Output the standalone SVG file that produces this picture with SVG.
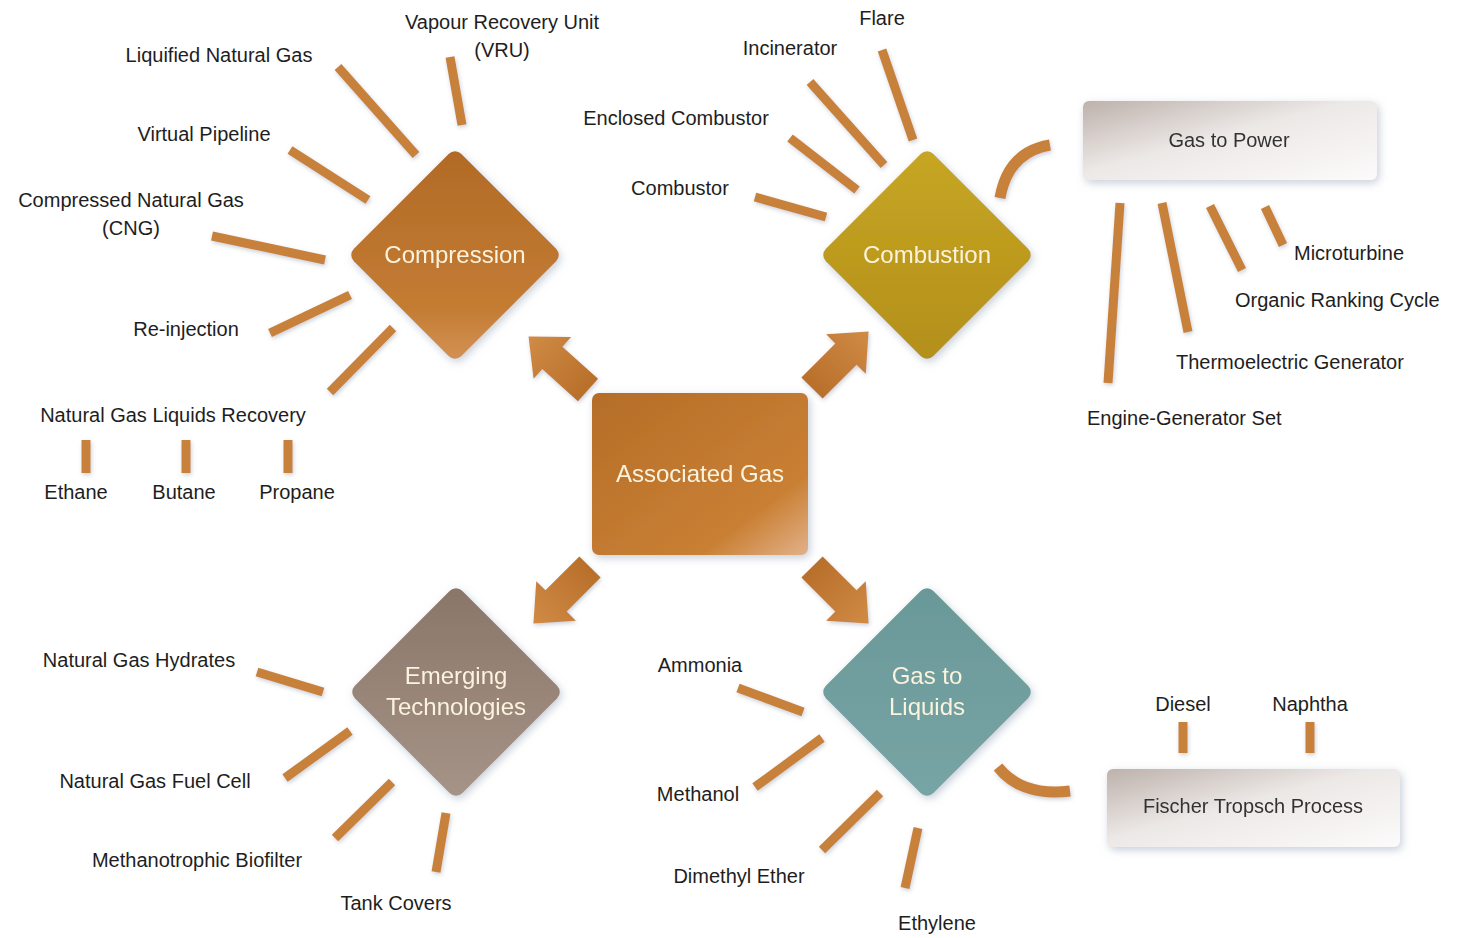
<svg xmlns="http://www.w3.org/2000/svg" width="1458" height="938" viewBox="0 0 1458 938">
  <defs>
    <style>
      .lbl { font-family: "Liberation Sans", Arial, sans-serif; font-size: 20px; fill: #1e1e1e; }
      .mid { text-anchor: middle; }
      .node-txt { font-family: "Liberation Sans", Arial, sans-serif; font-size: 24px; fill: #fbf3de; text-anchor: middle; }
      .box-txt { font-family: "Liberation Sans", Arial, sans-serif; font-size: 20px; fill: #333; text-anchor: middle; }
      .spoke { stroke: #c8813a; stroke-width: 9; stroke-linecap: butt; fill: none; }
      .curve { stroke: #c8813a; stroke-width: 11; stroke-linecap: butt; fill: none; }
      .blk { fill: url(#gArrow); }
    </style>
    <filter id="glow" x="-20%" y="-20%" width="140%" height="140%">
      <feDropShadow dx="2" dy="3" stdDeviation="4" flood-color="#9aa6ba" flood-opacity="0.55"/>
    </filter>
    <filter id="soft" x="-20%" y="-20%" width="140%" height="140%">
      <feDropShadow dx="1" dy="2" stdDeviation="2" flood-color="#8c96a8" flood-opacity="0.45"/>
    </filter>
    <linearGradient id="gComp" x1="0" y1="0" x2="1" y2="1">
      <stop offset="0" stop-color="#b16a26"/>
      <stop offset="0.75" stop-color="#c47c33"/>
      <stop offset="1" stop-color="#d39356"/>
    </linearGradient>
    <linearGradient id="gAssoc" x1="0" y1="0" x2="1" y2="1">
      <stop offset="0" stop-color="#b56d28"/>
      <stop offset="0.75" stop-color="#c98034"/>
      <stop offset="1" stop-color="#e2b189"/>
    </linearGradient>
    <linearGradient id="gComb" x1="0" y1="0" x2="1" y2="1">
      <stop offset="0" stop-color="#c7a623"/>
      <stop offset="1" stop-color="#b38f1a"/>
    </linearGradient>
    <linearGradient id="gEmer" x1="0" y1="0" x2="1" y2="1">
      <stop offset="0" stop-color="#8a7568"/>
      <stop offset="1" stop-color="#a69488"/>
    </linearGradient>
    <linearGradient id="gGtl" x1="0" y1="0" x2="1" y2="1">
      <stop offset="0" stop-color="#6a9898"/>
      <stop offset="1" stop-color="#77a4a4"/>
    </linearGradient>
    <linearGradient id="gBox" x1="0" y1="0" x2="1" y2="1">
      <stop offset="0" stop-color="#bdb1ab"/>
      <stop offset="0.45" stop-color="#ece8e6"/>
      <stop offset="1" stop-color="#fcfbfb"/>
    </linearGradient>
    <linearGradient id="gArrow" x1="0" y1="0" x2="1" y2="0">
      <stop offset="0" stop-color="#b86f2a"/>
      <stop offset="1" stop-color="#d08b45"/>
    </linearGradient>
    <!-- block arrow pointing along +x, tail at origin -->
    <path id="blockArrow" d="M0,-15 L48,-15 L48,-28 L80,0 L48,28 L48,15 L0,15 Z"/>
  </defs>

  <rect width="1458" height="938" fill="#ffffff"/>

  <!-- connectors -->
  <g id="connectors" filter="url(#soft)">
    <!-- Compression spokes -->
    <line class="spoke" x1="338" y1="67" x2="416" y2="155"/>
    <line class="spoke" x1="450" y1="57" x2="462" y2="125"/>
    <line class="spoke" x1="290" y1="150" x2="368" y2="200"/>
    <line class="spoke" x1="212" y1="236" x2="325" y2="260"/>
    <line class="spoke" x1="270" y1="333" x2="350" y2="295"/>
    <line class="spoke" x1="330" y1="392" x2="393" y2="328"/>
    <!-- NGL products -->
    <line class="spoke" x1="86" y1="440" x2="86" y2="473"/>
    <line class="spoke" x1="186" y1="440" x2="186" y2="473"/>
    <line class="spoke" x1="288" y1="440" x2="288" y2="473"/>
    <!-- Combustion spokes -->
    <line class="spoke" x1="882" y1="50" x2="913" y2="140"/>
    <line class="spoke" x1="810" y1="82" x2="884" y2="165"/>
    <line class="spoke" x1="790" y1="138" x2="857" y2="190"/>
    <line class="spoke" x1="755" y1="197" x2="826" y2="217"/>
    <!-- Gas to Power spokes -->
    <line class="spoke" x1="1120" y1="203" x2="1108" y2="383"/>
    <line class="spoke" x1="1162" y1="203" x2="1188" y2="332"/>
    <line class="spoke" x1="1210" y1="206" x2="1242" y2="270"/>
    <line class="spoke" x1="1265" y1="207" x2="1283" y2="245"/>
    <!-- Emerging Technologies spokes -->
    <line class="spoke" x1="257" y1="672" x2="323" y2="692"/>
    <line class="spoke" x1="285" y1="778" x2="350" y2="731"/>
    <line class="spoke" x1="335" y1="838" x2="392" y2="782"/>
    <line class="spoke" x1="436" y1="872" x2="446" y2="813"/>
    <!-- Gas to Liquids spokes -->
    <line class="spoke" x1="738" y1="688" x2="803" y2="712"/>
    <line class="spoke" x1="755" y1="787" x2="822" y2="738"/>
    <line class="spoke" x1="822" y1="850" x2="880" y2="793"/>
    <line class="spoke" x1="905" y1="888" x2="918" y2="828"/>
    <!-- Fischer Tropsch products -->
    <line class="spoke" x1="1183" y1="753" x2="1183" y2="722"/>
    <line class="spoke" x1="1310" y1="753" x2="1310" y2="722"/>
    <!-- curved links to the side boxes -->
    <path class="curve" d="M1000,198 Q1008,152 1050,145"/>
    <path class="curve" d="M998,767 Q1022,797 1070,791"/>
    <!-- block arrows from the centre -->
    <use href="#blockArrow" class="blk" transform="translate(588,390) rotate(-138)"/>
    <use href="#blockArrow" class="blk" transform="translate(812,388) rotate(-45)"/>
    <use href="#blockArrow" class="blk" transform="translate(590,567) rotate(135)"/>
    <use href="#blockArrow" class="blk" transform="translate(812,567) rotate(45)"/>
  </g>

  <!-- central node -->
  <g id="associated-gas" filter="url(#glow)">
    <rect x="592" y="393" width="216" height="162" rx="7" fill="url(#gAssoc)"/>
    <text class="node-txt" x="700" y="482">Associated Gas</text>
  </g>

  <!-- diamonds -->
  <g id="compression" filter="url(#glow)">
    <rect x="-76" y="-76" width="152" height="152" rx="9" fill="url(#gComp)" transform="translate(455,255) rotate(45)"/>
    <text class="node-txt" x="455" y="263">Compression</text>
  </g>
  <g id="combustion" filter="url(#glow)">
    <rect x="-76" y="-76" width="152" height="152" rx="9" fill="url(#gComb)" transform="translate(927,255) rotate(45)"/>
    <text class="node-txt" x="927" y="263">Combustion</text>
  </g>
  <g id="emerging-technologies" filter="url(#glow)">
    <rect x="-76" y="-76" width="152" height="152" rx="9" fill="url(#gEmer)" transform="translate(456,692) rotate(45)"/>
    <text class="node-txt" x="456" y="684">Emerging</text>
    <text class="node-txt" x="456" y="715">Technologies</text>
  </g>
  <g id="gas-to-liquids" filter="url(#glow)">
    <rect x="-76" y="-76" width="152" height="152" rx="9" fill="url(#gGtl)" transform="translate(927,692) rotate(45)"/>
    <text class="node-txt" x="927" y="684">Gas to</text>
    <text class="node-txt" x="927" y="715">Liquids</text>
  </g>

  <!-- side boxes -->
  <g id="gas-to-power" filter="url(#glow)">
    <rect x="1083" y="101" width="294" height="79" rx="6" fill="url(#gBox)"/>
    <text class="box-txt" x="1229" y="147">Gas to Power</text>
  </g>
  <g id="fischer-tropsch" filter="url(#glow)">
    <rect x="1107" y="769" width="293" height="78" rx="6" fill="url(#gBox)"/>
    <text class="box-txt" x="1253" y="813">Fischer Tropsch Process</text>
  </g>

  <!-- Compression labels -->
  <g id="compression-labels">
    <text class="lbl mid" x="502" y="29">Vapour Recovery Unit</text>
    <text class="lbl mid" x="502" y="57">(VRU)</text>
    <text class="lbl mid" x="219" y="62">Liquified Natural Gas</text>
    <text class="lbl mid" x="204" y="141">Virtual Pipeline</text>
    <text class="lbl mid" x="131" y="207">Compressed Natural Gas</text>
    <text class="lbl mid" x="131" y="235">(CNG)</text>
    <text class="lbl mid" x="186" y="336">Re-injection</text>
    <text class="lbl mid" x="173" y="422">Natural Gas Liquids Recovery</text>
    <text class="lbl mid" x="76" y="499">Ethane</text>
    <text class="lbl mid" x="184" y="499">Butane</text>
    <text class="lbl mid" x="297" y="499">Propane</text>
  </g>

  <!-- Combustion labels -->
  <g id="combustion-labels">
    <text class="lbl mid" x="882" y="25">Flare</text>
    <text class="lbl mid" x="790" y="55">Incinerator</text>
    <text class="lbl mid" x="676" y="125">Enclosed Combustor</text>
    <text class="lbl mid" x="680" y="195">Combustor</text>
  </g>

  <!-- Gas to Power labels -->
  <g id="power-labels">
    <text class="lbl" x="1294" y="260">Microturbine</text>
    <text class="lbl" x="1235" y="307">Organic Ranking Cycle</text>
    <text class="lbl" x="1176" y="369">Thermoelectric Generator</text>
    <text class="lbl" x="1087" y="425">Engine-Generator Set</text>
  </g>

  <!-- Emerging Technologies labels -->
  <g id="emerging-labels">
    <text class="lbl mid" x="139" y="667">Natural Gas Hydrates</text>
    <text class="lbl mid" x="155" y="788">Natural Gas Fuel Cell</text>
    <text class="lbl mid" x="197" y="867">Methanotrophic Biofilter</text>
    <text class="lbl mid" x="396" y="910">Tank Covers</text>
  </g>

  <!-- Gas to Liquids labels -->
  <g id="gtl-labels">
    <text class="lbl mid" x="700" y="672">Ammonia</text>
    <text class="lbl mid" x="698" y="801">Methanol</text>
    <text class="lbl mid" x="739" y="883">Dimethyl Ether</text>
    <text class="lbl mid" x="937" y="930">Ethylene</text>
    <text class="lbl mid" x="1183" y="711">Diesel</text>
    <text class="lbl mid" x="1310" y="711">Naphtha</text>
  </g>
</svg>
